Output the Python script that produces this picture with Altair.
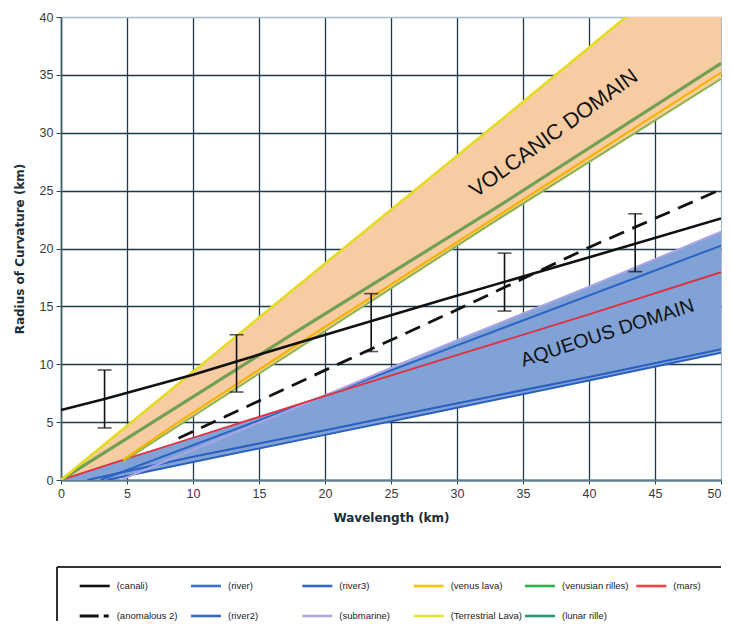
import altair as alt
import pandas as pd

# ---------------- data ----------------
X_TICKS = list(range(0, 51, 5))
Y_TICKS = list(range(0, 41, 5))

canali_x = [0, 3.3, 10, 17.8, 29, 41.7, 50]
canali_y = [6.05, 7.0, 9.1, 11.8, 15.6, 19.8, 22.6]

anomalous_x = [8.9, 20.6, 29.8, 40.2, 50]
anomalous_y = [3.6, 9.8, 14.6, 20.2, 25.1]

err_x = [3.3, 13.3, 23.5, 33.6, 43.5]
err_lo = [4.5, 7.6, 11.1, 14.6, 18.0]
err_hi = [9.5, 12.55, 16.1, 19.6, 23.0]

terr_lava_x = [0, 10, 20, 32.8, 42.8, 50]
terr_lava_y = [0, 9.35, 18.7, 30.6, 40.0, 46.7]

ven_rilles_x = [0, 17.8, 32.8, 50]
ven_rilles_y = [0, 12.8, 23.4, 36.0]

venus_lava_x = [4.7, 8.9, 18.6, 32.8, 50]
venus_lava_y = [1.73, 5.0, 12.2, 22.6, 35.2]

lunar_x = [4.7, 32.8, 50]
lunar_y = [1.6, 22.3, 34.65]

mars_x = [0, 4.7, 10, 20.8, 29, 40, 50]
mars_y = [0, 1.73, 3.65, 7.55, 10.45, 14.3, 17.95]

river_x = [3.0, 10, 20.8, 29, 50]
river_y = [0, 3.0, 7.65, 11.2, 20.25]

river2_x = [2.0, 10, 20, 29, 40, 50]
river2_y = [0, 2.0, 4.3, 6.4, 8.9, 11.3]

river3_x = [3.5, 10, 20, 29, 40, 50]
river3_y = [0, 1.55, 3.9, 6.0, 8.6, 11.0]

submarine_x = [4.5, 15, 20, 29, 40, 50]
submarine_y = [0, 4.95, 7.3, 11.6, 16.7, 21.45]

volc_x = [0, 4.7, 10, 20, 32.8, 42.8, 50]
volc_top = [0, 4.4, 9.35, 18.7, 30.6, 40.0, 46.7]
volc_bot = [0, 1.7, 5.55, 12.85, 22.2, 29.4, 34.65]

aq_x = [0, 3.5, 4.7, 10, 15, 20, 29, 40, 50]
aq_top = [0, 1.28, 1.73, 3.65, 5.45, 7.3, 11.6, 16.7, 21.45]
aq_bot = [0, 0, 0.29, 1.55, 2.7, 3.9, 6.0, 8.6, 11.0]

domain_text = ["VOLCANIC DOMAIN", "AQUEOUS DOMAIN"]
domain_tx = [37.35, 41.4]
domain_ty = [29.9, 12.7]
domain_angle = [324, 342]
domain_size = [21.5, 19.5]

legend_names = ["(canali)", "(river)", "(river3)", "(venus lava)", "(venusian rilles)", "(mars)",
                "(anomalous 2)", "(river2)", "(submarine)", "(Terrestrial Lava)", "(lunar rille)"]
legend_col = [0, 1, 2, 3, 4, 5, 0, 1, 2, 3, 4]
legend_row = [0, 0, 0, 0, 0, 0, 1, 1, 1, 1, 1]
legend_colors = ["#111111", "#3a70cc", "#3466c4", "#f7c200", "#33b04a", "#ee4848",
                 "#111111", "#3466c4", "#aaaadc", "#e6e23a", "#1f9e6c"]
legend_dashed = [False, False, False, False, False, False, True, False, False, False, False]

# ---------------- styling ----------------
FONT = "Liberation Sans"
TFONT = "DejaVu Sans"
W, H = 660, 463

xscale = alt.Scale(domain=[0, 50], nice=False, zero=False)
yscale = alt.Scale(domain=[0, 40], nice=False, zero=False)

xaxis = alt.Axis(values=X_TICKS, title="Wavelength (km)", grid=True,
                 gridColor={"condition": {"test": "datum.value === 50", "value": "#a8bcc8"}, "value": "#1f3b4a"},
                 gridWidth=1.3, domainColor="#5a7c8c", domainWidth=2, tickColor="#2a4655", tickSize=4,
                 labelAlign={"condition": {"test": "datum.value === 50", "value": "right"}, "value": "center"},
                 labelPadding=3, titlePadding=13,
                 labelFont=FONT, labelFontSize=12.5, labelColor="#3a3a3a",
                 titleFont=TFONT, titleFontSize=12, titleFontWeight="bold", titleColor="#1d2d3a")
yaxis = alt.Axis(values=Y_TICKS, title="Radius of Curvature (km)", grid=True,
                 gridColor={"condition": {"test": "datum.value === 40", "value": "#a8bcc8"}, "value": "#1f3b4a"},
                 gridWidth=1.3, domainColor="#3f5f6f", domainWidth=1.6, tickColor="#2a4655", tickSize=5,
                 labelPadding=3, titlePadding=13,
                 labelFont=FONT, labelFontSize=12.5, labelColor="#3a3a3a",
                 titleFont=TFONT, titleFontSize=12, titleFontWeight="bold", titleColor="#1d2d3a")

X = alt.X("x:Q", scale=xscale, axis=xaxis)
Y = alt.Y("y:Q", scale=yscale, axis=yaxis)


def line_df(xs, ys):
    return pd.DataFrame({"x": xs, "y": ys})


def line(xs, ys, color, width, dash=None):
    kw = dict(color=color, strokeWidth=width, clip=True)
    if dash:
        kw["strokeDash"] = dash
    return alt.Chart(line_df(xs, ys)).mark_line(**kw).encode(x=X, y=Y)


def band(xs, top, bot, color):
    df = pd.DataFrame({"x": xs, "y": top, "y2": bot})
    return alt.Chart(df).mark_area(color=color, opacity=1, clip=True).encode(
        x=X, y=Y, y2=alt.Y2("y2:Q"))


layers = [
    band(volc_x, volc_top, volc_bot, "#f8cca2"),
    band(aq_x, aq_top, aq_bot, "#80a2d6"),
    line(river3_x, river3_y, "#2a5fc0", 2),
    line(river2_x, river2_y, "#2a5fc0", 2),
    line(river_x, river_y, "#2a64c4", 2),
    line(submarine_x, submarine_y, "#a9a4e4", 2),
    line(mars_x, mars_y, "#e0303f", 1.8),
    line(lunar_x, lunar_y, "#8ab54a", 2),
    line(venus_lava_x, venus_lava_y, "#f3b300", 2.2),
    line(ven_rilles_x, ven_rilles_y, "#71a052", 3.2),
    line(terr_lava_x, terr_lava_y, "#e3dc22", 2.6),
    line(canali_x, canali_y, "#111111", 2.6),
    line(anomalous_x, anomalous_y, "#111111", 2.8, [16, 9]),
]

err_df = pd.DataFrame({"x": err_x, "y": err_lo, "y2": err_hi})
layers.append(alt.Chart(err_df).mark_rule(color="#111111", strokeWidth=1.6).encode(
    x=X, y=Y, y2=alt.Y2("y2:Q")))
layers.append(alt.Chart(err_df).mark_tick(color="#111111", orient="horizontal", size=14, thickness=1.6).encode(
    x=X, y=Y))
layers.append(alt.Chart(err_df).mark_tick(color="#111111", orient="horizontal", size=14, thickness=1.6).encode(
    x=X, y=alt.Y("y2:Q", scale=yscale, axis=yaxis)))

txt_df = pd.DataFrame({"x": domain_tx, "y": domain_ty, "t": domain_text, "a": domain_angle,
                       "s": domain_size})
layers.append(alt.Chart(txt_df).mark_text(font=FONT, color="#111111", align="center",
                                          baseline="middle").encode(
    x=X, y=Y, text="t:N", angle=alt.Angle("a:Q", scale=None), size=alt.Size("s:Q", scale=None)))

main = alt.layer(*layers).properties(width=W, height=H)

# ---------------- legend panel ----------------
LH = 54
leg = pd.DataFrame({"name": legend_names, "col": legend_col, "row": legend_row,
                    "color": legend_colors, "dashed": legend_dashed})
lx = alt.X("col:Q", scale=alt.Scale(domain=[-0.168, 5.761], nice=False, zero=False), axis=None)
lx2 = alt.X2("col:Q")
ly = alt.Y("row:Q", scale=alt.Scale(domain=[-0.633, 1.167], nice=False, zero=False, reverse=True), axis=None)

solid = alt.Chart(leg[~leg["dashed"]]).mark_rule(strokeWidth=2.6, x2Offset=30).encode(
    x=lx, x2=lx2, y=ly, color=alt.Color("color:N", scale=None))
dashed = alt.Chart(leg[leg["dashed"]]).mark_rule(strokeWidth=2.8, x2Offset=29, strokeDash=[19, 5, 5, 40]).encode(
    x=lx, x2=lx2, y=ly, color=alt.Color("color:N", scale=None))
labels = alt.Chart(leg).mark_text(align="left", baseline="middle", dx=37, fontSize=9.5, font=FONT,
                                  color="#222222").encode(x=lx, y=ly, text="name:N")
frame_top = alt.Chart(leg).mark_rule(color="#333333", strokeWidth=1.5).encode(
    x=alt.value(-4), x2=alt.value(W), y=alt.value(0))
frame_left = alt.Chart(leg).mark_rule(color="#333333", strokeWidth=1.5).encode(
    x=alt.value(-4), y=alt.value(0), y2=alt.value(LH))

legend = alt.layer(frame_top, frame_left, solid, dashed, labels).properties(width=W, height=LH)

chart = alt.vconcat(main, legend, spacing=42).properties(
    padding={"left": 5, "top": 3, "right": 0, "bottom": 0},
    background="white",
).configure_view(strokeWidth=0)

chart.save("out.html", embed_options={"renderer": "svg", "actions": False})
